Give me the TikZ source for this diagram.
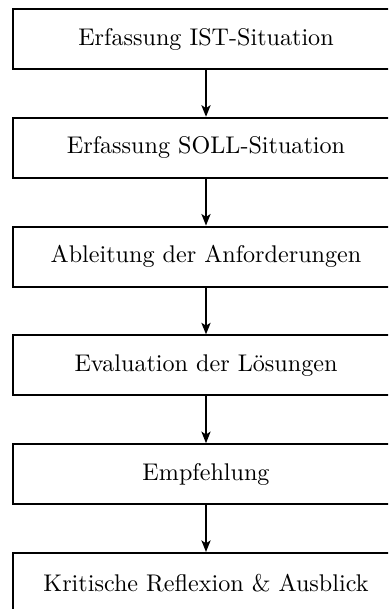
\documentclass[tikz,border=0pt]{standalone}
\usetikzlibrary{arrows.meta}
\begin{document}
\begin{tikzpicture}[x=0.4145pt, y=-0.4145pt,
  stepbox/.style={draw, line width=0.85pt, rectangle, minimum width=386*0.4145pt,
    minimum height=60*0.4145pt, inner sep=0pt, font=\normalsize},
  flow/.style={line width=0.7pt, -{Stealth[length=4.8pt, width=3.8pt, inset=1.2pt]}}]
  \useasboundingbox (0,0) rectangle (388,609);
  \clip (0,0) rectangle (388,609);
  \node[stepbox] (s1) at (206,39)    {Erfassung IST-Situation};
  \node[stepbox] (s2) at (206,147.8) {Erfassung SOLL-Situation};
  \node[stepbox] (s3) at (206,256.6) {Ableitung der Anforderungen};
  \node[stepbox] (s4) at (206,365.4) {Evaluation der Lösungen};
  \node[stepbox] (s5) at (206,474.2) {Empfehlung};
  \node[stepbox] (s6) at (206,583)   {Kritische Reflexion \& Ausblick};
  \draw[flow] (s1) -- (s2);
  \draw[flow] (s2) -- (s3);
  \draw[flow] (s3) -- (s4);
  \draw[flow] (s4) -- (s5);
  \draw[flow] (s5) -- (s6);
\end{tikzpicture}
\end{document}
